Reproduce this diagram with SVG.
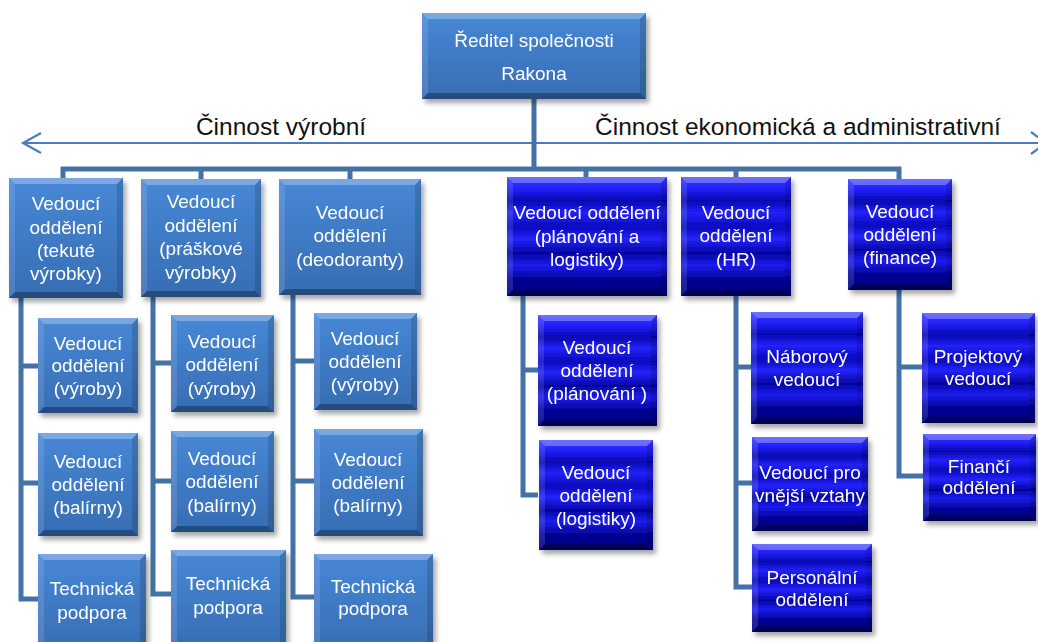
<svg xmlns="http://www.w3.org/2000/svg" width="1038" height="642" viewBox="0 0 1038 642">
<style>
.t{font-family:"Liberation Sans",Arial,sans-serif;font-size:19px;fill:#ffffff;text-anchor:middle}
.lbl{font-family:"Liberation Sans",Arial,sans-serif;font-size:24.5px;fill:#111111}
.steel{fill:url(#gSteel)}
.navy{fill:url(#gNavy)}
.bt{fill:#ffffff;fill-opacity:0.28}
.bl{fill:#ffffff;fill-opacity:0.12}
.br{fill:#000000;fill-opacity:0.14}
.bb{fill:#000000;fill-opacity:0.3}
.conn{fill:none;stroke:#4472a8;stroke-width:5;stroke-linejoin:miter}
.axis{fill:none;stroke:#4a7ebb;stroke-width:2.2}
</style>
<defs>
<linearGradient id="gSteel" x1="0" y1="0" x2="0" y2="1">
<stop offset="0" stop-color="#4788d6"/>
<stop offset="1" stop-color="#376db3"/>
</linearGradient>
<linearGradient id="gNavy" x1="0" y1="0" x2="0" y2="1">
<stop offset="0" stop-color="#3a3aff"/>
<stop offset="0.1" stop-color="#2020f8"/>
<stop offset="0.2" stop-color="#0606b0"/>
<stop offset="0.3" stop-color="#2222fa"/>
<stop offset="0.42" stop-color="#0808bc"/>
<stop offset="0.52" stop-color="#2424fc"/>
<stop offset="0.64" stop-color="#0404a2"/>
<stop offset="0.74" stop-color="#1c1cee"/>
<stop offset="0.86" stop-color="#030396"/>
<stop offset="1" stop-color="#00007c"/>
</linearGradient>
<filter id="sh" x="-10%" y="-10%" width="125%" height="130%">
<feDropShadow dx="3" dy="4" stdDeviation="2.5" flood-color="#000000" flood-opacity="0.35"/>
</filter>
</defs>
<rect width="1038" height="642" fill="#ffffff"/>

<g id="axis">
<line class="axis" x1="23" y1="143" x2="1040" y2="143"/>
<polyline class="axis" points="41,133 23,143 41,153"/>
<polyline class="axis" points="1031,132 1046,143 1031,154"/>
<text class="lbl" x="281" y="135" text-anchor="middle">Činnost výrobní</text>
<text class="lbl" x="798" y="135" text-anchor="middle">Činnost ekonomická a administrativní</text>
</g>

<g id="connectors">
<path class="conn" d="M534,99 V169 M63,178 V169 H899 V179 M201,169 V179 M350,169 V179 M586,169 V177 M736,169 V177"/>
<path class="conn" d="M21,298 V599 H38 M21,366 H38 M21,483 H38"/>
<path class="conn" d="M153,297 V594 H171 M153,363 H171 M153,481 H171"/>
<path class="conn" d="M293,295 V597 H314 M293,361 H314 M293,481 H314"/>
<path class="conn" d="M523,296 V495 H538 M523,370 H538"/>
<path class="conn" d="M736,296 V587 H752 M736,367 H751 M736,483 H752"/>
<path class="conn" d="M899,290 V476 H923 M899,367 H922"/>
</g>

<g id="root" filter="url(#sh)">
<rect class="steel" x="422" y="13" width="224" height="86"/>
<polygon class="bt" points="422,13 646,13 640,19 428,19"/><polygon class="bl" points="422,13 428,19 428,93 422,99"/><polygon class="br" points="646,13 646,99 640,93 640,19"/><polygon class="bb" points="422,99 428,93 640,93 646,99"/>
<text class="t" x="534" y="46.6">Ředitel společnosti</text>
<text class="t" x="534" y="79.6">Rakona</text>
</g>

<g id="tekute" filter="url(#sh)">
<rect class="steel" x="9" y="178" width="114" height="120"/>
<polygon class="bt" points="9,178 123,178 117,184 15,184"/><polygon class="bl" points="9,178 15,184 15,292 9,298"/><polygon class="br" points="123,178 123,298 117,292 117,184"/><polygon class="bb" points="9,298 15,292 117,292 123,298"/>
<text class="t" x="66" y="209.6">Vedoucí</text><text class="t" x="66" y="233.6">oddělení</text><text class="t" x="66" y="256.6">(tekuté</text><text class="t" x="66" y="279.6">výrobky)</text>
</g>

<g id="praskove" filter="url(#sh)">
<rect class="steel" x="141" y="179" width="120" height="118"/>
<polygon class="bt" points="141,179 261,179 255,185 147,185"/><polygon class="bl" points="141,179 147,185 147,291 141,297"/><polygon class="br" points="261,179 261,297 255,291 255,185"/><polygon class="bb" points="141,297 147,291 255,291 261,297"/>
<text class="t" x="201" y="207.6">Vedoucí</text><text class="t" x="201" y="231.6">oddělení</text><text class="t" x="201" y="254.6">(práškové</text><text class="t" x="201" y="278.6">výrobky)</text>
</g>

<g id="deodoranty" filter="url(#sh)">
<rect class="steel" x="279" y="179" width="142" height="116"/>
<polygon class="bt" points="279,179 421,179 415,185 285,185"/><polygon class="bl" points="279,179 285,185 285,289 279,295"/><polygon class="br" points="421,179 421,295 415,289 415,185"/><polygon class="bb" points="279,295 285,289 415,289 421,295"/>
<text class="t" x="350" y="218.6">Vedoucí</text><text class="t" x="350" y="241.6">oddělení</text><text class="t" x="350" y="265.6">(deodoranty)</text>
</g>

<g id="planovani-logistika" filter="url(#sh)">
<rect class="navy" x="507" y="177" width="160" height="119"/>
<polygon class="bt" points="507,177 667,177 661,183 513,183"/><polygon class="bl" points="507,177 513,183 513,290 507,296"/><polygon class="br" points="667,177 667,296 661,290 661,183"/><polygon class="bb" points="507,296 513,290 661,290 667,296"/>
<text class="t" x="587" y="218.6">Vedoucí oddělení</text><text class="t" x="587" y="242.6">(plánování a</text><text class="t" x="587" y="265.6">logistiky)</text>
</g>

<g id="hr" filter="url(#sh)">
<rect class="navy" x="681" y="177" width="110" height="119"/>
<polygon class="bt" points="681,177 791,177 785,183 687,183"/><polygon class="bl" points="681,177 687,183 687,290 681,296"/><polygon class="br" points="791,177 791,296 785,290 785,183"/><polygon class="bb" points="681,296 687,290 785,290 791,296"/>
<text class="t" x="736" y="218.6">Vedoucí</text><text class="t" x="736" y="241.6">oddělení</text><text class="t" x="736" y="265.6">(HR)</text>
</g>

<g id="finance" filter="url(#sh)">
<rect class="navy" x="848" y="179" width="104" height="111"/>
<polygon class="bt" points="848,179 952,179 946,185 854,185"/><polygon class="bl" points="848,179 854,185 854,284 848,290"/><polygon class="br" points="952,179 952,290 946,284 946,185"/><polygon class="bb" points="848,290 854,284 946,284 952,290"/>
<text class="t" x="900" y="217.6">Vedoucí</text><text class="t" x="900" y="240.6">oddělení</text><text class="t" x="900" y="263.6">(finance)</text>
</g>

<g id="a-vyroby" filter="url(#sh)">
<rect class="steel" x="38" y="318" width="100" height="95"/>
<polygon class="bt" points="38,318 138,318 132,324 44,324"/><polygon class="bl" points="38,318 44,324 44,407 38,413"/><polygon class="br" points="138,318 138,413 132,407 132,324"/><polygon class="bb" points="38,413 44,407 132,407 138,413"/>
<text class="t" x="88" y="349.6">Vedoucí</text><text class="t" x="88" y="371.6">oddělení</text><text class="t" x="88" y="394.6">(výroby)</text>
</g>

<g id="a-balirny" filter="url(#sh)">
<rect class="steel" x="38" y="433" width="100" height="103"/>
<polygon class="bt" points="38,433 138,433 132,439 44,439"/><polygon class="bl" points="38,433 44,439 44,530 38,536"/><polygon class="br" points="138,433 138,536 132,530 132,439"/><polygon class="bb" points="38,536 44,530 132,530 138,536"/>
<text class="t" x="88" y="467.6">Vedoucí</text><text class="t" x="88" y="490.6">oddělení</text><text class="t" x="88" y="513.6">(balírny)</text>
</g>

<g id="a-technicka" filter="url(#sh)">
<rect class="steel" x="38" y="554" width="108" height="98"/>
<polygon class="bt" points="38,554 146,554 140,560 44,560"/><polygon class="bl" points="38,554 44,560 44,646 38,652"/><polygon class="br" points="146,554 146,652 140,646 140,560"/>
<text class="t" x="92" y="594.6">Technická</text><text class="t" x="92" y="618.6">podpora</text>
</g>

<g id="b-vyroby" filter="url(#sh)">
<rect class="steel" x="171" y="315" width="103" height="97"/>
<polygon class="bt" points="171,315 274,315 268,321 177,321"/><polygon class="bl" points="171,315 177,321 177,406 171,412"/><polygon class="br" points="274,315 274,412 268,406 268,321"/><polygon class="bb" points="171,412 177,406 268,406 274,412"/>
<text class="t" x="222" y="347.6">Vedoucí</text><text class="t" x="222" y="370.6">oddělení</text><text class="t" x="222" y="394.6">(výroby)</text>
</g>

<g id="b-balirny" filter="url(#sh)">
<rect class="steel" x="171" y="431" width="103" height="101"/>
<polygon class="bt" points="171,431 274,431 268,437 177,437"/><polygon class="bl" points="171,431 177,437 177,526 171,532"/><polygon class="br" points="274,431 274,532 268,526 268,437"/><polygon class="bb" points="171,532 177,526 268,526 274,532"/>
<text class="t" x="222" y="464.6">Vedoucí</text><text class="t" x="222" y="487.6">oddělení</text><text class="t" x="222" y="511.6">(balírny)</text>
</g>

<g id="b-technicka" filter="url(#sh)">
<rect class="steel" x="171" y="550" width="115" height="102"/>
<polygon class="bt" points="171,550 286,550 280,556 177,556"/><polygon class="bl" points="171,550 177,556 177,646 171,652"/><polygon class="br" points="286,550 286,652 280,646 280,556"/>
<text class="t" x="228" y="589.6">Technická</text><text class="t" x="228" y="613.6">podpora</text>
</g>

<g id="c-vyroby" filter="url(#sh)">
<rect class="steel" x="314" y="313" width="103" height="97"/>
<polygon class="bt" points="314,313 417,313 411,319 320,319"/><polygon class="bl" points="314,313 320,319 320,404 314,410"/><polygon class="br" points="417,313 417,410 411,404 411,319"/><polygon class="bb" points="314,410 320,404 411,404 417,410"/>
<text class="t" x="365" y="344.6">Vedoucí</text><text class="t" x="365" y="367.6">oddělení</text><text class="t" x="365" y="390.6">(výroby)</text>
</g>

<g id="c-balirny" filter="url(#sh)">
<rect class="steel" x="314" y="429" width="109" height="107"/>
<polygon class="bt" points="314,429 423,429 417,435 320,435"/><polygon class="bl" points="314,429 320,435 320,530 314,536"/><polygon class="br" points="423,429 423,536 417,530 417,435"/><polygon class="bb" points="314,536 320,530 417,530 423,536"/>
<text class="t" x="368" y="465.6">Vedoucí</text><text class="t" x="368" y="488.6">oddělení</text><text class="t" x="368" y="511.6">(balírny)</text>
</g>

<g id="c-technicka" filter="url(#sh)">
<rect class="steel" x="314" y="554" width="119" height="98"/>
<polygon class="bt" points="314,554 433,554 427,560 320,560"/><polygon class="bl" points="314,554 320,560 320,646 314,652"/><polygon class="br" points="433,554 433,652 427,646 427,560"/>
<text class="t" x="373" y="592.6">Technická</text><text class="t" x="373" y="614.6">podpora</text>
</g>

<g id="d-planovani" filter="url(#sh)">
<rect class="navy" x="538" y="315" width="119" height="111"/>
<polygon class="bt" points="538,315 657,315 651,321 544,321"/><polygon class="bl" points="538,315 544,321 544,420 538,426"/><polygon class="br" points="657,315 657,426 651,420 651,321"/><polygon class="bb" points="538,426 544,420 651,420 657,426"/>
<text class="t" x="597" y="353.6">Vedoucí</text><text class="t" x="597" y="376.6">oddělení</text><text class="t" x="597" y="399.6">(plánování )</text>
</g>

<g id="d-logistiky" filter="url(#sh)">
<rect class="navy" x="539" y="440" width="114" height="110"/>
<polygon class="bt" points="539,440 653,440 647,446 545,446"/><polygon class="bl" points="539,440 545,446 545,544 539,550"/><polygon class="br" points="653,440 653,550 647,544 647,446"/><polygon class="bb" points="539,550 545,544 647,544 653,550"/>
<text class="t" x="596" y="478.6">Vedoucí</text><text class="t" x="596" y="501.6">oddělení</text><text class="t" x="596" y="524.6">(logistiky)</text>
</g>

<g id="e-naborovy" filter="url(#sh)">
<rect class="navy" x="751" y="312" width="112" height="112"/>
<polygon class="bt" points="751,312 863,312 857,318 757,318"/><polygon class="bl" points="751,312 757,318 757,418 751,424"/><polygon class="br" points="863,312 863,424 857,418 857,318"/><polygon class="bb" points="751,424 757,418 857,418 863,424"/>
<text class="t" x="807" y="362.6">Náborový</text><text class="t" x="807" y="385.6">vedoucí</text>
</g>

<g id="e-vnejsi" filter="url(#sh)">
<rect class="navy" x="752" y="437" width="116" height="94"/>
<polygon class="bt" points="752,437 868,437 862,443 758,443"/><polygon class="bl" points="752,437 758,443 758,525 752,531"/><polygon class="br" points="868,437 868,531 862,525 862,443"/><polygon class="bb" points="752,531 758,525 862,525 868,531"/>
<text class="t" x="810" y="478.6">Vedoucí pro</text><text class="t" x="810" y="501.6">vnější vztahy</text>
</g>

<g id="e-personalni" filter="url(#sh)">
<rect class="navy" x="752" y="544" width="120" height="88"/>
<polygon class="bt" points="752,544 872,544 866,550 758,550"/><polygon class="bl" points="752,544 758,550 758,626 752,632"/><polygon class="br" points="872,544 872,632 866,626 866,550"/><polygon class="bb" points="752,632 758,626 866,626 872,632"/>
<text class="t" x="812" y="583.6">Personální</text><text class="t" x="812" y="605.6">oddělení</text>
</g>

<g id="f-projektovy" filter="url(#sh)">
<rect class="navy" x="922" y="313" width="113" height="110"/>
<polygon class="bt" points="922,313 1035,313 1029,319 928,319"/><polygon class="bl" points="922,313 928,319 928,417 922,423"/><polygon class="br" points="1035,313 1035,423 1029,417 1029,319"/><polygon class="bb" points="922,423 928,417 1029,417 1035,423"/>
<text class="t" x="978" y="362.6">Projektový</text><text class="t" x="978" y="384.6">vedoucí</text>
</g>

<g id="f-financni" filter="url(#sh)">
<rect class="navy" x="923" y="434" width="113" height="87"/>
<polygon class="bt" points="923,434 1036,434 1030,440 929,440"/><polygon class="bl" points="923,434 929,440 929,515 923,521"/><polygon class="br" points="1036,434 1036,521 1030,515 1030,440"/><polygon class="bb" points="923,521 929,515 1030,515 1036,521"/>
<text class="t" x="979" y="472.6">Finančí</text><text class="t" x="979" y="493.6">oddělení</text>
</g>
</svg>
